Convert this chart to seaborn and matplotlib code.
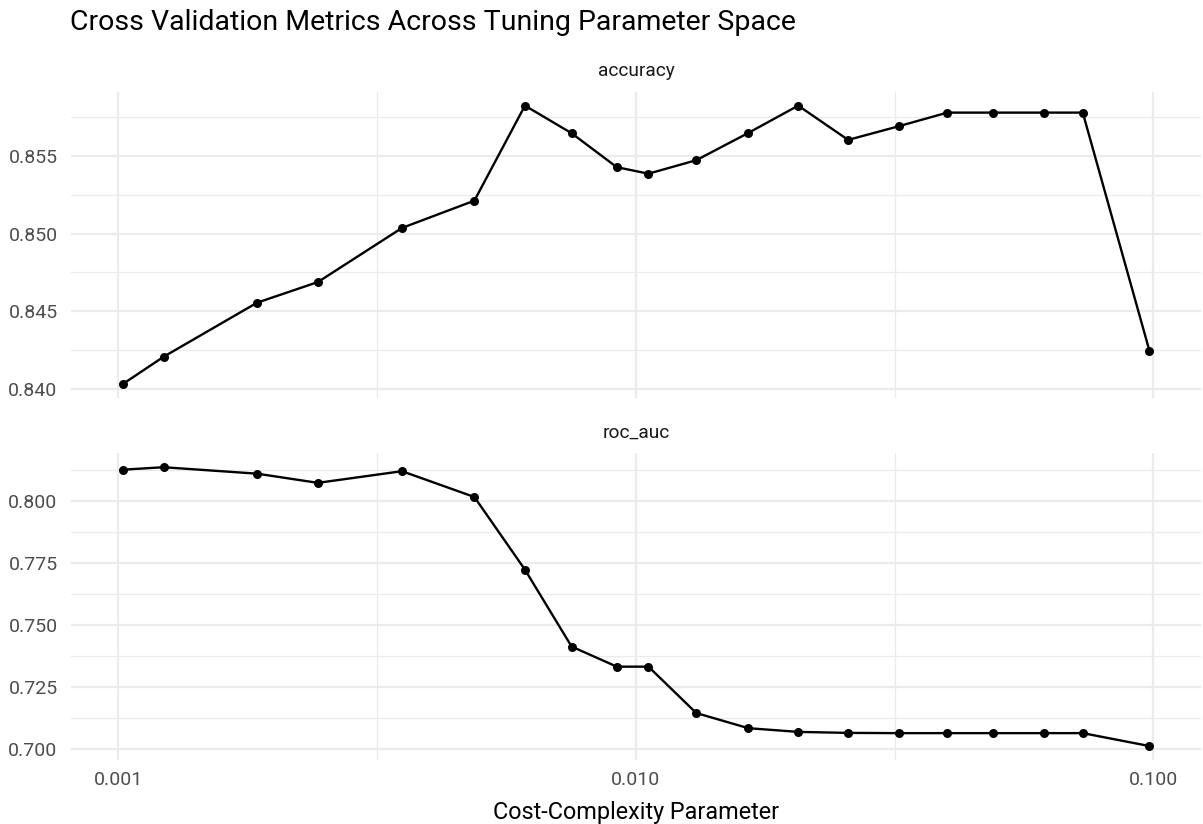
import numpy as np
import pandas as pd
import matplotlib
matplotlib.use("Agg")
import matplotlib.pyplot as plt
from matplotlib.ticker import FixedLocator, NullFormatter, FixedFormatter
import seaborn as sns

# ---- data ----
cost_complexity = [0.00102, 0.001223, 0.001854, 0.00243, 0.003533, 0.004876,
                   0.006107, 0.007516, 0.00919, 0.01058, 0.01309, 0.0165,
                   0.0206, 0.02573, 0.03222, 0.03999, 0.04907, 0.0614,
                   0.07308, 0.0983]
accuracy = [0.8403, 0.84206, 0.84555, 0.84688, 0.85037, 0.85213, 0.85826,
            0.85648, 0.85429, 0.85387, 0.85474, 0.8565, 0.85826, 0.85605,
            0.85693, 0.85781, 0.85781, 0.85781, 0.85781, 0.84246]
roc_auc = [0.8125, 0.8135, 0.8109, 0.8072, 0.8119, 0.8015, 0.7722, 0.7412,
           0.7331, 0.7331, 0.7144, 0.7083, 0.7068, 0.7064, 0.7063, 0.7063,
           0.7063, 0.7063, 0.7063, 0.7011]
metrics = ["accuracy", "roc_auc"]
x_ticks = [0.001, 0.01, 0.1]
x_tick_labels = ["0.001", "0.010", "0.100"]
acc_ticks = [0.840, 0.845, 0.850, 0.855]
roc_ticks = [0.700, 0.725, 0.750, 0.775, 0.800]

df = pd.DataFrame({
    "cost": cost_complexity * 2,
    "mean": accuracy + roc_auc,
    "metric": ["accuracy"] * len(accuracy) + ["roc_auc"] * len(roc_auc),
})

sns.set_theme(style="white")
plt.rcParams["font.family"] = ["Roboto", "DejaVu Sans"]

GRID = "#EBEBEB"
fig = plt.figure(figsize=(12.03, 8.24), dpi=100)
ax1 = fig.add_axes([0.0594, 0.5170, 0.9387, 0.3717])
ax2 = fig.add_axes([0.0594, 0.0777, 0.9387, 0.3722])

lx = np.log10(cost_complexity)
pad_x = 0.05 * (lx.max() - lx.min())
xlim = (10 ** (lx.min() - pad_x), 10 ** (lx.max() + pad_x))

for ax, metric, yt in [(ax1, "accuracy", acc_ticks), (ax2, "roc_auc", roc_ticks)]:
    sub = df[df["metric"] == metric]
    sns.lineplot(data=sub, x="cost", y="mean", color="black", linewidth=1.7,
                 marker="o", markersize=6.5, markeredgewidth=0, ax=ax,
                 legend=False)
    ax.set_xscale("log")
    ax.set_xlim(*xlim)
    vals = sub["mean"].to_numpy()
    py = 0.05 * (vals.max() - vals.min())
    ax.set_ylim(vals.min() - py, vals.max() + py)

    ax.xaxis.set_major_locator(FixedLocator(x_ticks))
    ax.xaxis.set_major_formatter(FixedFormatter(x_tick_labels))
    ax.xaxis.set_minor_locator(FixedLocator([10 ** -2.5, 10 ** -1.5]))
    ax.xaxis.set_minor_formatter(NullFormatter())
    step = yt[1] - yt[0]
    ax.yaxis.set_major_locator(FixedLocator(yt))
    ax.yaxis.set_major_formatter(FixedFormatter([f"{v:.3f}" for v in yt]))
    ax.yaxis.set_minor_locator(FixedLocator([v + step / 2 for v in yt]))
    ax.yaxis.set_minor_formatter(NullFormatter())

    ax.grid(which="major", color=GRID, linewidth=1.6)
    ax.grid(which="minor", color=GRID, linewidth=0.9)
    ax.set_axisbelow(True)
    for s in ax.spines.values():
        s.set_visible(False)
    ax.tick_params(which="both", length=0)
    ax.tick_params(axis="y", labelsize=14, labelcolor="#4D4D4D", pad=10)
    ax.tick_params(axis="x", labelsize=14, labelcolor="#4D4D4D", pad=8)
    ax.set_xlabel("")
    ax.set_ylabel("")

ax1.tick_params(axis="x", labelbottom=False)

fig.text(0.5287, 1 - 76 / 824, "accuracy", ha="center", va="baseline",
         fontsize=13.8, color="#1A1A1A")
fig.text(0.5287, 1 - 437.6 / 824, "roc_auc", ha="center", va="baseline",
         fontsize=13.8, color="#1A1A1A")
fig.text(0.058, 1 - 30 / 824, "Cross Validation Metrics Across Tuning Parameter Space",
         ha="left", va="baseline", fontsize=20.5, color="black")
fig.text(0.5287, 1 - 819 / 824, "Cost-Complexity Parameter", ha="center",
         va="baseline", fontsize=16.8, color="black")

fig.savefig("out.png", dpi=100)
